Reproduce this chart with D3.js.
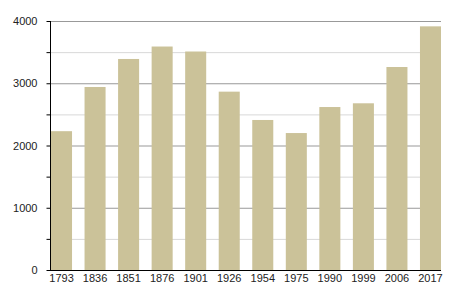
<!DOCTYPE html>
<html>
<head>
<meta charset="utf-8">
<script src="https://cdn.jsdelivr.net/npm/d3@7"></script>
<style>
  body { margin: 0; background: #fff; }
  svg { display: block; font-family: "Liberation Sans", Arial, sans-serif; }
</style>
</head>
<body>
<svg id="chart" width="450" height="300"></svg>
<script>
// Population per census year
const years = ["1793", "1836", "1851", "1876", "1901", "1926", "1954", "1975", "1990", "1999", "2006", "2017"]
const population = [2230, 2940, 3390, 3590, 3510, 2865, 2410, 2200, 2618, 2678, 3261, 3914]
const majorTicks = [0, 1000, 2000, 3000, 4000]
const minorTicks = [500, 1500, 2500, 3500]

const svg = d3.select("#chart")
const plot = { left: 50, right: 441, top: 21, bottom: 270 }

const x = d3.scaleBand()
  .domain(years)
  .range([plot.left + 1, plot.right])
  .paddingInner(0.373)
  .paddingOuter(0)
  .align(0)

const y = d3.scaleLinear()
  .domain([0, 4000])
  .range([plot.bottom, plot.top])

// minor gridlines
svg.append("g")
  .selectAll("line")
  .data(minorTicks)
  .join("line")
  .attr("x1", plot.left).attr("x2", plot.right)
  .attr("y1", d => y(d) + 0.5).attr("y2", d => y(d) + 0.5)
  .attr("stroke", "#d8d8d8")

// major gridlines
svg.append("g")
  .selectAll("line")
  .data(majorTicks.filter(d => d > 0))
  .join("line")
  .attr("x1", plot.left).attr("x2", plot.right)
  .attr("y1", d => y(d) + 0.5).attr("y2", d => y(d) + 0.5)
  .attr("stroke", "#999")

// bars
svg.append("g")
  .selectAll("rect")
  .data(population)
  .join("rect")
  .attr("x", (d, i) => x(years[i]))
  .attr("width", x.bandwidth())
  .attr("y", d => y(d))
  .attr("height", d => plot.bottom - y(d))
  .attr("fill", "#cbc299")

// y axis
const yAxis = svg.append("g")
  .attr("transform", `translate(${plot.left + 0.5},0)`)
  .call(d3.axisLeft(y)
    .tickValues(majorTicks.concat(minorTicks))
    .tickSize(4)
    .tickPadding(9)
    .tickFormat(d => d % 1000 === 0 ? d : ""))
yAxis.select(".domain").attr("stroke", "#000").attr("d", `M0,${plot.top}V${plot.bottom}`)
yAxis.selectAll(".tick line").attr("stroke", "#000")
yAxis.selectAll("text").attr("font-size", 11).attr("fill", "#222")

// x axis
const xAxis = svg.append("g")
  .attr("transform", `translate(0,${plot.bottom + 0.5})`)
  .call(d3.axisBottom(x).tickSize(0).tickPadding(4))
xAxis.select(".domain").attr("stroke", "#000").attr("d", `M${plot.left},0H${plot.right}`)
xAxis.selectAll("text").attr("font-size", 11).attr("fill", "#222")
</script>
</body>
</html>
